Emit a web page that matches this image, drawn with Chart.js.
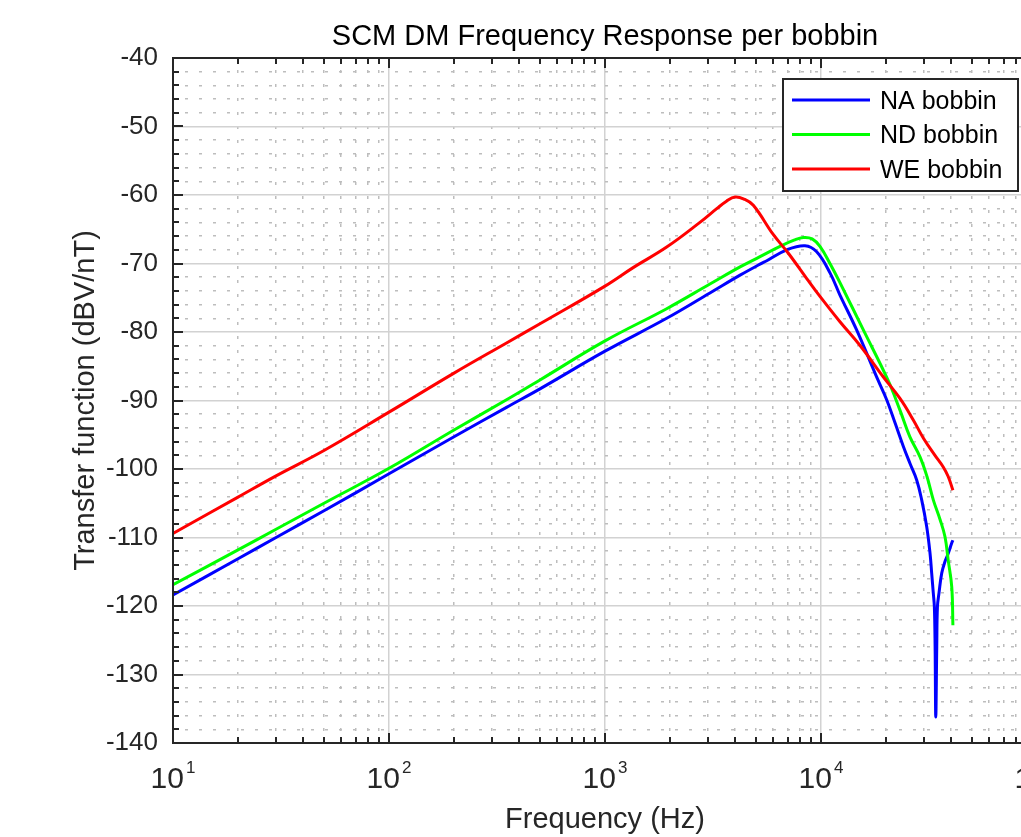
<!DOCTYPE html>
<html>
<head>
<meta charset="utf-8">
<title>SCM DM Frequency Response per bobbin</title>
<script src="https://cdn.jsdelivr.net/npm/chart.js@4.4.1/dist/chart.umd.min.js"></script>
<style>
  html, body { margin: 0; padding: 0; background: #fff; overflow: hidden; }
  #wrap { width: 1021px; height: 837px; overflow: hidden; }
</style>
</head>
<body>
<div id="wrap"><canvas id="tfChart" width="1060" height="837"></canvas></div>
<script>
// values (Hz, dBV/nT)
const freqNA = [10, 20, 30, 50, 100, 200, 350, 500, 1000, 1930, 3060, 4220, 5220, 5610, 6940, 8430, 9550, 11020, 12240, 14620, 18350, 20140, 22030, 24060, 25830, 27730, 29250, 30850, 31970, 32540, 33100, 33480, 33750, 33990, 34350, 34600, 35180, 36220, 37500, 38850, 40300, 40800];
const dbNA = [-118.4, -113.1, -110.0, -106.1, -100.7, -95.3, -91.0, -88.3, -82.8, -78.0, -74.3, -71.7, -70.1, -69.6, -68.0, -67.4, -68.3, -71.4, -74.6, -79.7, -87.0, -89.9, -93.3, -96.7, -99.2, -101.6, -104.5, -108.4, -112.3, -115.2, -118.1, -120.1, -125.9, -136.2, -125.9, -120.1, -118.1, -115.2, -113.5, -112.3, -110.8, -110.4];

const freqND = [10, 20, 30, 50, 100, 200, 350, 500, 1000, 1930, 3060, 4220, 5220, 6460, 7500, 8280, 9100, 9890, 11000, 12240, 15700, 20400, 23200, 25800, 28700, 30950, 33100, 35600, 37500, 38800, 40300, 40800];
const dbND = [-116.9, -111.8, -108.8, -105.0, -99.9, -94.3, -89.9, -87.0, -81.3, -76.6, -73.0, -70.5, -69.0, -67.5, -66.6, -66.2, -66.4, -67.5, -70.0, -72.8, -79.7, -87.0, -91.4, -95.3, -98.2, -101.1, -104.5, -107.4, -109.9, -113.3, -117.2, -122.8];

const freqWE = [10, 20, 30, 50, 100, 200, 350, 500, 1000, 1350, 1930, 2750, 3290, 3650, 4000, 4400, 4860, 6020, 7060, 8590, 9890, 12240, 15100, 19370, 23200, 26700, 29800, 33700, 36800, 38800, 40800];
const dbWE = [-109.4, -104.1, -101.0, -97.3, -91.7, -86.0, -81.6, -78.8, -73.3, -70.6, -67.6, -64.0, -62.0, -60.9, -60.3, -60.6, -61.5, -65.8, -68.5, -72.2, -74.8, -78.5, -81.9, -86.5, -89.7, -92.8, -95.5, -98.0, -99.7, -101.1, -103.1];

const seriesNames = ['NA bobbin', 'ND bobbin', 'WE bobbin'];
const seriesColors = ['#0000ff', '#00ff00', '#ff0000'];

// axes
const xDecades = [10, 100, 1000, 10000, 100000];
const yMin = -140, yMax = -40, yStep = 2, yLabelStep = 10;

const FONT = '"Liberation Sans", Arial, Helvetica, sans-serif';
const axisColor = '#262626';
const majorGridColor = '#d2d2d2';
const minorGridColor = '#bdbdbd';
const clear = 'rgba(0,0,0,0)';

// 10,20,...,90,100,200,... up to the last decade
const xTicks = [];
xDecades.forEach((d, i) => {
    if (i === xDecades.length - 1) { xTicks.push(d); return; }
    for (let m = 1; m <= 9; m++) xTicks.push(m * d);
});

function useXTicks(scale) {
    scale.ticks = xTicks.map(v => ({ value: v, major: xDecades.includes(v) }));
}

function isMajorY(ctx) {
    return ctx.tick && Math.round(ctx.tick.value) % yLabelStep === 0;
}

function toPoints(freqs, dbs) {
    return freqs.map((f, i) => ({ x: f, y: dbs[i] }));
}

// tick marks, legend and texts drawn on top of the chart
const matlabFrame = {
    id: 'matlabFrame',
    afterDatasetsDraw(chart) {
        const { ctx, chartArea: a, scales } = chart;
        ctx.save();
        ctx.strokeStyle = axisColor;
        ctx.lineWidth = 2;
        ctx.beginPath();
        scales.x.ticks.forEach(t => {
            const px = Math.round(scales.x.getPixelForValue(t.value));
            const len = t.major ? 10 : 6;
            ctx.moveTo(px, a.bottom); ctx.lineTo(px, a.bottom - len);
            ctx.moveTo(px, a.top); ctx.lineTo(px, a.top + len);
        });
        scales.y.ticks.forEach(t => {
            const py = Math.round(scales.y.getPixelForValue(t.value));
            const len = Math.round(t.value) % yLabelStep === 0 ? 10 : 6;
            ctx.moveTo(a.left, py); ctx.lineTo(a.left + len, py);
            ctx.moveTo(a.right, py); ctx.lineTo(a.right - len, py);
        });
        ctx.stroke();
        ctx.strokeRect(Math.round(a.left), Math.round(a.top), Math.round(a.right - a.left), Math.round(a.bottom - a.top));
        ctx.restore();
    },
    afterDraw(chart) {
        const { ctx, chartArea: a, scales } = chart;
        ctx.save();
        ctx.fillStyle = axisColor;

        // x tick labels as 10^n
        ctx.textBaseline = 'alphabetic';
        ctx.textAlign = 'left';
        xDecades.forEach(v => {
            const px = scales.x.getPixelForValue(v);
            const exp = String(Math.round(Math.log10(v)));
            ctx.font = '30px ' + FONT;
            const wb = ctx.measureText('10').width;
            ctx.font = '17px ' + FONT;
            const we = ctx.measureText(exp).width;
            const x0 = px - (wb + 2 + we) / 2;
            ctx.font = '30px ' + FONT;
            ctx.fillText('10', x0, a.bottom + 45);
            ctx.font = '17px ' + FONT;
            ctx.fillText(exp, x0 + wb + 2, a.bottom + 30);
        });

        // title and axis labels
        const midX = (a.left + a.right) / 2;
        ctx.textAlign = 'center';
        ctx.fillStyle = '#000';
        ctx.font = '29px ' + FONT;
        ctx.fillText('SCM DM Frequency Response per bobbin', midX, 45);
        ctx.fillStyle = axisColor;
        ctx.fillText('Frequency (Hz)', midX, 828);
        ctx.save();
        ctx.translate(94, (a.top + a.bottom) / 2);
        ctx.rotate(-Math.PI / 2);
        ctx.fillText('Transfer function (dBV/nT)', 0, 0);
        ctx.restore();

        // legend box in the upper right corner
        const box = { x: a.right - 254, y: a.top + 21, w: 235, h: 112 };
        ctx.fillStyle = '#fff';
        ctx.fillRect(box.x, box.y, box.w, box.h);
        ctx.strokeStyle = axisColor;
        ctx.lineWidth = 2;
        ctx.strokeRect(box.x, box.y, box.w, box.h);
        ctx.font = '25px ' + FONT;
        ctx.textAlign = 'left';
        ctx.textBaseline = 'middle';
        seriesNames.forEach((name, i) => {
            const ry = box.y + 21 + i * 34.5;
            ctx.strokeStyle = seriesColors[i];
            ctx.lineWidth = 3;
            ctx.beginPath();
            ctx.moveTo(box.x + 9, ry);
            ctx.lineTo(box.x + 87, ry);
            ctx.stroke();
            ctx.fillStyle = '#000';
            ctx.fillText(name, box.x + 97, ry + 2);
        });
        ctx.restore();
    }
};

const series = [toPoints(freqNA, dbNA), toPoints(freqND, dbND), toPoints(freqWE, dbWE)];

new Chart(document.getElementById('tfChart'), {
    type: 'line',
    data: {
        datasets: series.map((pts, i) => ({
            label: seriesNames[i],
            data: pts,
            borderColor: seriesColors[i],
            backgroundColor: seriesColors[i],
            borderWidth: 3,
            pointRadius: 0,
            fill: false,
            tension: 0.4,
            order: 3 - i
        }))
    },
    options: {
        responsive: false,
        animation: false,
        events: [],
        layout: { padding: { top: 58, left: 0, right: 23, bottom: 0 } },
        plugins: { legend: { display: false }, tooltip: { enabled: false }, title: { display: false } },
        scales: {
            x: {
                type: 'logarithmic',
                position: 'bottom',
                min: 10,
                max: 100000,
                afterBuildTicks: useXTicks,
                afterFit(scale) { scale.height = 94; },
                ticks: { display: false },
                border: { display: false },
                grid: {
                    drawTicks: false,
                    color: ctx => (ctx.tick && ctx.tick.major ? majorGridColor : clear),
                    lineWidth: ctx => (ctx.tick && ctx.tick.major ? 1.5 : 0)
                }
            },
            x2: {
                axis: 'x',
                type: 'logarithmic',
                position: 'top',
                min: 10,
                max: 100000,
                afterBuildTicks: useXTicks,
                afterFit(scale) { scale.height = 0; },
                ticks: { display: false },
                border: { display: false, dash: [3, 11], dashOffset: 2 },
                grid: {
                    drawTicks: false,
                    color: ctx => (ctx.tick && !ctx.tick.major ? minorGridColor : clear),
                    lineWidth: ctx => (ctx.tick && !ctx.tick.major ? 1.5 : 0)
                }
            },
            y: {
                type: 'linear',
                position: 'left',
                min: yMin,
                max: yMax,
                afterFit(scale) { scale.width = 173; },
                ticks: {
                    stepSize: yStep,
                    autoSkip: false,
                    padding: 15,
                    color: axisColor,
                    font: { family: FONT, size: 26 },
                    callback: v => (Math.round(v) % yLabelStep === 0 ? String(v) : '')
                },
                border: { display: false },
                grid: {
                    drawTicks: false,
                    color: ctx => (isMajorY(ctx) ? majorGridColor : clear),
                    lineWidth: ctx => (isMajorY(ctx) ? 1.5 : 0)
                }
            },
            y2: {
                axis: 'y',
                type: 'linear',
                position: 'right',
                min: yMin,
                max: yMax,
                afterFit(scale) { scale.width = 0; },
                ticks: { display: false, stepSize: yStep },
                border: { display: false, dash: [3, 11], dashOffset: 2 },
                grid: {
                    drawTicks: false,
                    color: ctx => (ctx.tick && !isMajorY(ctx) ? minorGridColor : clear),
                    lineWidth: ctx => (ctx.tick && !isMajorY(ctx) ? 1.5 : 0)
                }
            }
        }
    },
    plugins: [matlabFrame]
});
</script>
</body>
</html>
